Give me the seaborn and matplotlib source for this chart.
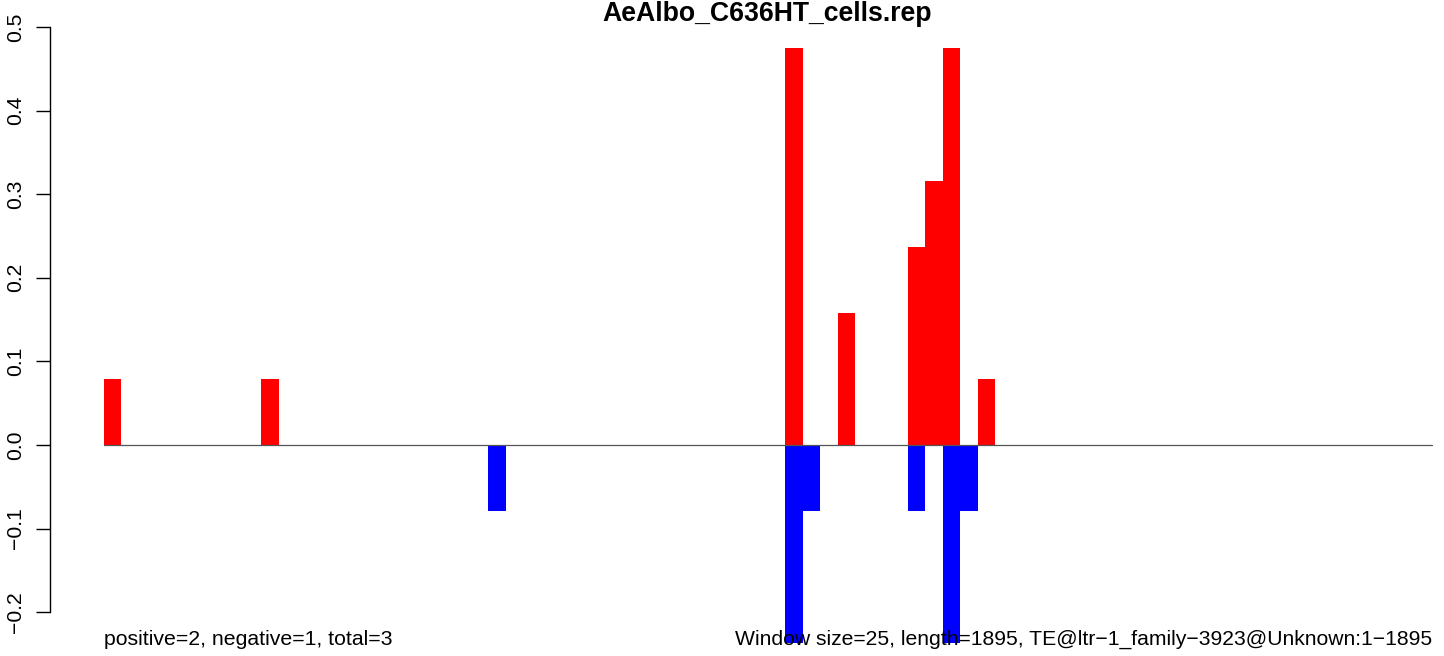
import numpy as np
import pandas as pd
import matplotlib
matplotlib.use("Agg")
import matplotlib.pyplot as plt
import seaborn as sns

# ---- data ----
title = "AeAlbo_C636HT_cells.rep"
n_windows = 76
pos_windows = [0, 9, 39, 42, 46, 47, 48, 50]
pos_values = [0.079, 0.079, 0.475, 0.158, 0.237, 0.316, 0.475, 0.079]
neg_windows = [22, 39, 40, 46, 48, 49]
neg_values = [-0.079, -0.237, -0.079, -0.079, -0.237, -0.079]
y_ticks = [-0.2, -0.1, 0.0, 0.1, 0.2, 0.3, 0.4, 0.5]
left_note = "positive=2, negative=1, total=3"
right_note = "Window size=25, length=1895, TE@ltr\u22121_family\u22123923@Unknown:1\u22121895"

sns.set_theme(style="white")
plt.rcParams['font.family'] = ['Liberation Sans', 'DejaVu Sans']
plt.rcParams['text.color'] = 'black'

pos_full = np.zeros(n_windows)
pos_full[pos_windows] = pos_values
neg_full = np.zeros(n_windows)
neg_full[neg_windows] = neg_values
win = np.arange(n_windows)
df = pd.DataFrame({
    "window": np.concatenate([win, win]) + 0.5,
    "value": np.concatenate([pos_full, neg_full]),
    "strand": ["pos"] * n_windows + ["neg"] * n_windows,
})

W, H = 1444, 656
fig = plt.figure(figsize=(W / 100, H / 100), dpi=100)
ax = fig.add_axes([50 / W, 0, (W - 50) / W, 1])

sns.barplot(data=df, x="window", y="value", hue="strand",
            palette={"pos": "#FF0000", "neg": "#0000FF"}, saturation=1,
            native_scale=True, width=1.0, dodge=False, linewidth=0,
            legend=False, ax=ax, zorder=2)

px_per_unit = 1328 / n_windows
ax.set_xlim(-54 / px_per_unit, n_windows + 12 / px_per_unit)
ax.set_ylim(-(656 - 445) / 836, 0.5 + 27 / 836)

ax.plot([0, n_windows], [0, 0], color="#555555", lw=0.9, zorder=3)

for s in ["top", "right", "bottom"]:
    ax.spines[s].set_visible(False)
ax.spines["left"].set_color("black")
ax.spines["left"].set_linewidth(1.0)
ax.spines["left"].set_bounds(-0.2, 0.5)
ax.set_yticks(y_ticks)
ax.set_yticklabels([f"{v:.1f}".replace("-", "\u2212") for v in y_ticks],
                   rotation=90, va="center", fontsize=15.2)
ax.tick_params(axis="y", left=True, direction="out", length=10, width=1.0,
               color="black", pad=8, labelcolor="black")
ax.set_xticks([])
ax.set_xlabel("")
ax.set_ylabel("")
ax.grid(False)

fig.text(767 / W, 1 - 14 / H, title, ha="center", va="center",
         fontsize=19.2, fontweight="bold", color="black", zorder=10)
fig.text(104 / W, (H - 645) / H, left_note, ha="left", va="baseline",
         fontsize=15.3, color="black", zorder=10)
fig.text(1432 / W, (H - 645) / H, right_note, ha="right", va="baseline",
         fontsize=15.25, color="black", zorder=10)

fig.savefig("out.png", dpi=100)
